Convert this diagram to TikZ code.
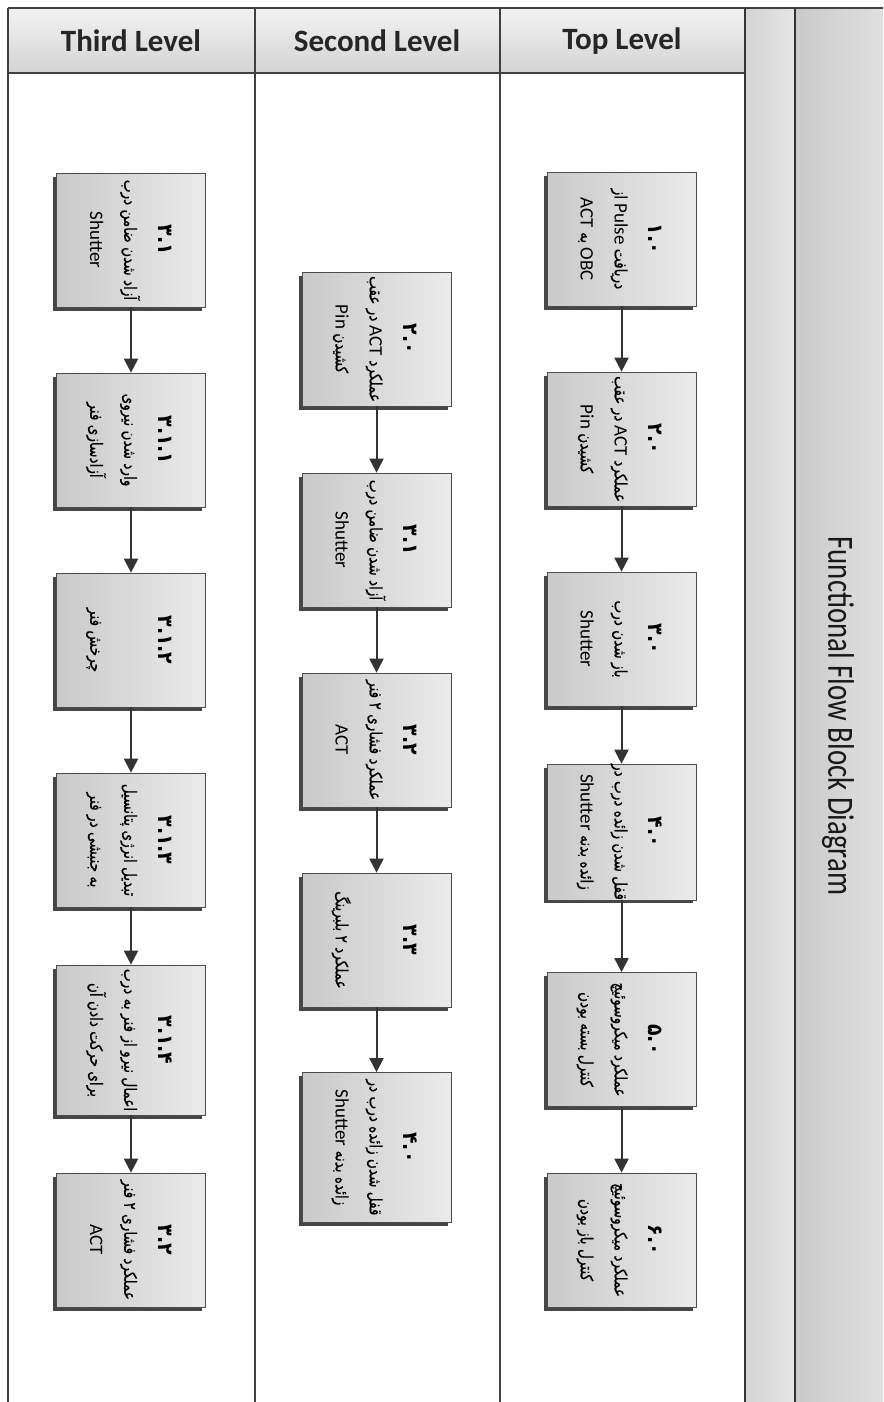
\documentclass[tikz,border=0pt]{standalone}
\usepackage{fontspec}
\usepackage{graphicx}
\usetikzlibrary{arrows.meta,shadows}
\TeXXeTstate=1
\setmainfont{Carlito}
\newfontfamily\arfont[Script=Arabic,FakeStretch=0.8,FakeBold=0.5]{DejaVu Sans}
\newfontfamily\arnumfont[Script=Arabic,FakeStretch=0.9]{DejaVu Sans}
\newfontfamily\latfont{Carlito}
\newcommand\lw[1]{{\latfont\fontsize{19}{21}\selectfont #1}}
\newcommand\boxtxt[3]{\rotatebox{-90}{\fontsize{17}{34}\selectfont\begin{tabular}{@{}c@{}}{\arnumfont\bfseries\fontsize{21}{23}\selectfont #1}\\ {\arfont\fontsize{17}{19}\selectfont #2}\\ {\arfont\fontsize{17}{19}\selectfont #3}\end{tabular}}}
\begin{document}
\begin{tikzpicture}[x=1pt,y=-1pt,
  fbox/.style={draw=gray!60!black, line width=0.7pt, left color=gray!42, right color=gray!16,
    minimum width=149pt, minimum height=134pt, inner sep=0pt,
    drop shadow={shadow xshift=-3.5pt, shadow yshift=-3.5pt, fill=gray!55!black, opacity=1}},
  tallbox/.style={minimum height=150pt},
  arr/.style={draw=black!80, line width=2pt, -{Triangle[length=14pt,width=14pt]}},
  hdrtext/.style={font=\latfont\bfseries\fontsize{31}{33}\selectfont, text=black!85},
  frameline/.style={draw=black!75, line width=1.2pt},
  heavyline/.style={draw=black!80, line width=2pt}]
\useasboundingbox (0,0) rectangle (883,1402);
\fill[white] (0,0) rectangle (883,1402);
% header cells
\shade[top color=gray!10, bottom color=gray!34] (8,8) rectangle (255,73);
\shade[top color=gray!10, bottom color=gray!34] (255,8) rectangle (500,73);
\shade[top color=gray!10, bottom color=gray!34] (500,8) rectangle (745,73);
% side columns
\shade[left color=gray!34, right color=gray!20] (745,8) rectangle (795,1402);
\shade[left color=gray!42, right color=gray!24] (795,8) rectangle (883,1402);
% frame lines
\draw[frameline] (8,8) -- (883,8);
\draw[frameline] (8,73) -- (745,73);
\draw[frameline] (8,8) -- (8,1402);
\draw[frameline] (255,8) -- (255,1402);
\draw[frameline] (500,8) -- (500,1402);
\draw[heavyline] (745,8) -- (745,1402);
\draw[heavyline] (795,8) -- (795,1402);
% headers
\node[hdrtext] (h3) at (131,41) {Third Level};
\node[hdrtext] (h2) at (377,41) {Second Level};
\node[hdrtext] (h1) at (622,41) {Top Level};
% title
\node[rotate=-90, font=\latfont\fontsize{37}{39}\selectfont, text=black!90] (title) at (838,716)
  {\scalebox{0.78}[1]{Functional Flow Block Diagram}};
% Top level
\node[fbox] (a1) at (621.5,239) {\boxtxt{۱.۰}{\beginR دریافت \lw{Pulse} از\endR}{\beginR \lw{OBC} به \lw{ACT}\endR}};
\node[fbox] (a2) at (621.5,439) {\boxtxt{۲.۰}{\beginR عملکرد \lw{ACT} در عقب\endR}{\beginR کشیدن \lw{Pin}\endR}};
\node[fbox] (a3) at (621.5,639) {\boxtxt{۳.۰}{\beginR باز شدن درب\endR}{\lw{Shutter}}};
\node[fbox] (a4) at (621.5,832) {\boxtxt{۴.۰}{\beginR قفل شدن زائده درب در\endR}{\beginR زائده بدنه \lw{Shutter}\endR}};
\node[fbox] (a5) at (621.5,1039.5) {\boxtxt{۵.۰}{\beginR عملکرد میکروسوئیچ\endR}{\beginR کنترل بسته بودن\endR}};
\node[fbox] (a6) at (621.5,1240) {\boxtxt{۶.۰}{\beginR عملکرد میکروسوئیچ\endR}{\beginR کنترل باز بودن\endR}};
% Second level
\node[fbox] (b1) at (376.5,339) {\boxtxt{۲.۰}{\beginR عملکرد \lw{ACT} در عقب\endR}{\beginR کشیدن \lw{Pin}\endR}};
\node[fbox] (b2) at (376.5,540) {\boxtxt{۳.۱}{\beginR آزاد شدن ضامن درب\endR}{\lw{Shutter}}};
\node[fbox] (b3) at (376.5,740) {\boxtxt{۳.۲}{\beginR عملکرد فشاری ۲ فنر\endR}{\lw{ACT}}};
\node[fbox] (b4) at (376.5,940) {\boxtxt{۳.۳}{}{\beginR عملکرد ۲ بلبرینگ\endR}};
\node[fbox,tallbox] (b5) at (376.5,1147.5) {\boxtxt{۴.۰}{\beginR قفل شدن زائده درب در\endR}{\beginR زائده بدنه \lw{Shutter}\endR}};
% Third level
\node[fbox] (c1) at (131,240) {\boxtxt{۳.۱}{\beginR آزاد شدن ضامن درب\endR}{\lw{Shutter}}};
\node[fbox] (c2) at (131,440) {\boxtxt{۳.۱.۱}{\beginR وارد شدن نیروی\endR}{\beginR آزادسازی فنر\endR}};
\node[fbox] (c3) at (131,640) {\boxtxt{۳.۱.۲}{}{\beginR چرخش فنر\endR}};
\node[fbox] (c4) at (131,840) {\boxtxt{۳.۱.۳}{\beginR تبدیل انرژی پتانسیل\endR}{\beginR به جنبشی در فنر\endR}};
\node[fbox,tallbox] (c5) at (131,1040) {\boxtxt{۳.۱.۴}{\beginR اعمال نیرو از فنر به درب\endR}{\beginR برای حرکت دادن آن\endR}};
\node[fbox] (c6) at (131,1240) {\boxtxt{۳.۲}{\beginR عملکرد فشاری ۲ فنر\endR}{\lw{ACT}}};
% arrows
\draw[arr] (a1.south) -- (a2.north);
\draw[arr] (a2.south) -- (a3.north);
\draw[arr] (a3.south) -- (a4.north);
\draw[arr] (a4.south) -- (a5.north);
\draw[arr] (a5.south) -- (a6.north);
\draw[arr] (b1.south) -- (b2.north);
\draw[arr] (b2.south) -- (b3.north);
\draw[arr] (b3.south) -- (b4.north);
\draw[arr] (b4.south) -- (b5.north);
\draw[arr] (c1.south) -- (c2.north);
\draw[arr] (c2.south) -- (c3.north);
\draw[arr] (c3.south) -- (c4.north);
\draw[arr] (c4.south) -- (c5.north);
\draw[arr] (c5.south) -- (c6.north);
\end{tikzpicture}
\end{document}
